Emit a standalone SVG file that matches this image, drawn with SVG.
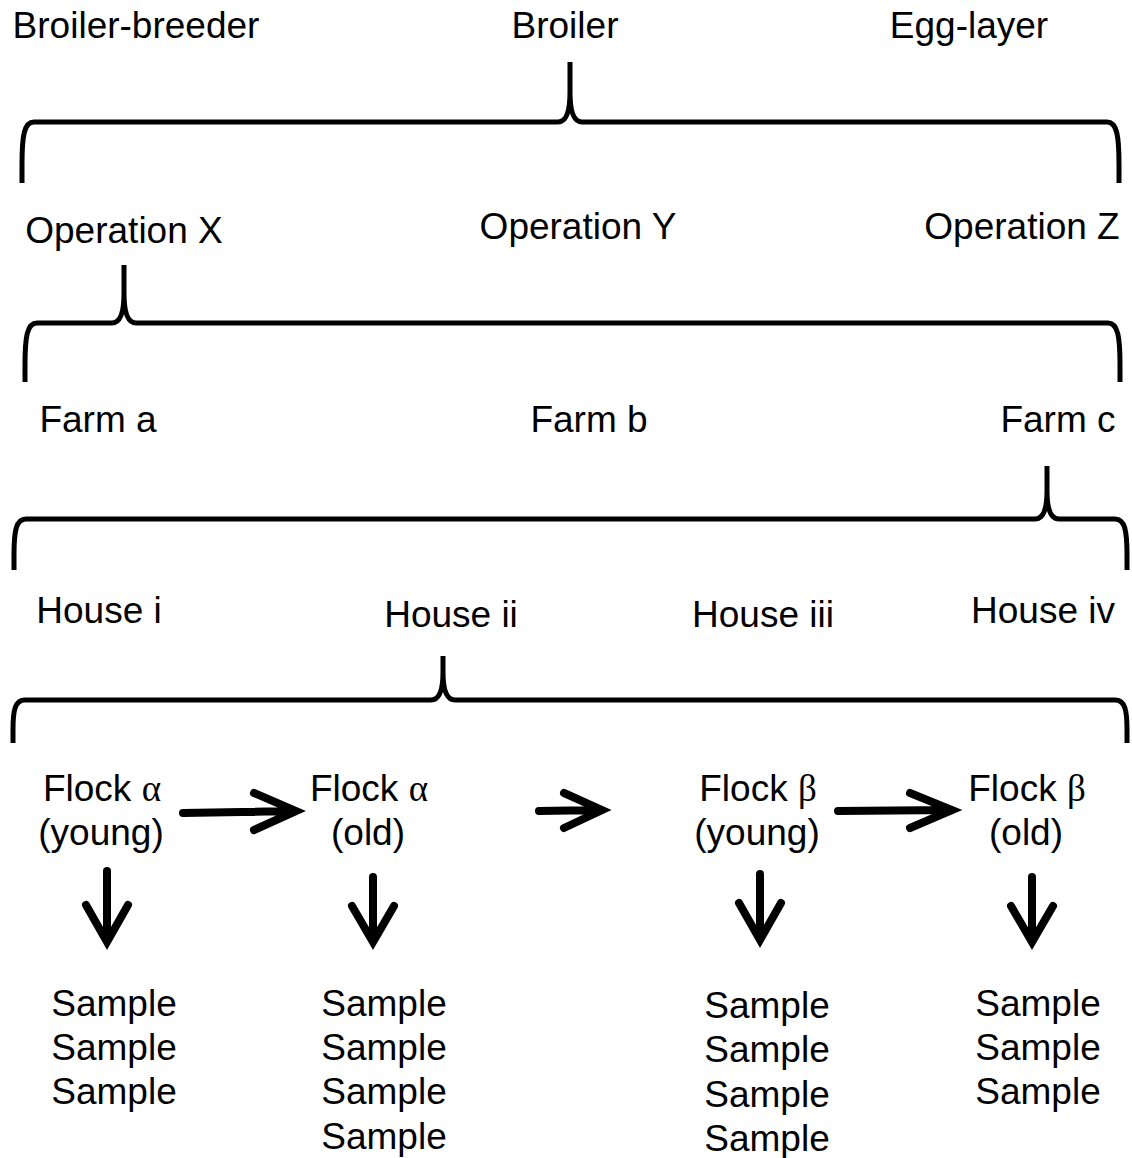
<svg xmlns="http://www.w3.org/2000/svg" width="1132" height="1158" viewBox="0 0 1132 1158">
<defs>
<style>
text{font-family:"Liberation Sans",Arial,sans-serif;font-size:37px;fill:#000;text-anchor:middle}
.g{font-family:"Liberation Serif","Times New Roman",serif}
.brace{fill:none;stroke:#000;stroke-width:5;stroke-linecap:butt;stroke-linejoin:round}
.arr{fill:none;stroke:#000;stroke-width:8;stroke-linecap:round;stroke-linejoin:miter}
</style>
</defs>
<rect width="1132" height="1158" fill="#fff"/>
<g id="level-type">
<text x="136" y="38">Broiler-breeder</text>
<text x="565" y="38">Broiler</text>
<text x="969" y="38">Egg-layer</text>
</g>
<g id="level-operation">
<text x="124" y="243">Operation X</text>
<text x="578" y="239">Operation Y</text>
<text x="1022" y="239">Operation Z</text>
</g>
<g id="level-farm">
<text x="98" y="432">Farm a</text>
<text x="589" y="432">Farm b</text>
<text x="1058" y="432">Farm c</text>
</g>
<g id="level-house">
<text x="99" y="623">House i</text>
<text x="451" y="627">House ii</text>
<text x="763" y="627">House iii</text>
<text x="1043" y="623">House iv</text>
</g>
<g id="flock-a-young"><text x="102" y="801">Flock <tspan class="g">α</tspan></text><text x="101" y="845">(young)</text></g>
<g id="flock-a-old"><text x="369" y="801">Flock <tspan class="g">α</tspan></text><text x="368" y="845">(old)</text></g>
<g id="flock-b-young"><text x="758" y="801">Flock <tspan class="g">β</tspan></text><text x="757" y="845">(young)</text></g>
<g id="flock-b-old"><text x="1027" y="801">Flock <tspan class="g">β</tspan></text><text x="1026" y="845">(old)</text></g>
<g id="samples-1"><text x="114" y="1016">Sample</text><text x="114" y="1060">Sample</text><text x="114" y="1104">Sample</text></g>
<g id="samples-2"><text x="384" y="1016">Sample</text><text x="384" y="1060">Sample</text><text x="384" y="1104">Sample</text><text x="384" y="1149">Sample</text></g>
<g id="samples-3"><text x="767" y="1018">Sample</text><text x="767" y="1062">Sample</text><text x="767" y="1107">Sample</text><text x="767" y="1151">Sample</text></g>
<g id="samples-4"><text x="1038" y="1016">Sample</text><text x="1038" y="1060">Sample</text><text x="1038" y="1104">Sample</text></g>
<g id="connectors">
<path class="brace" d="M22,183 L22,165 C22,136 24,122 34,122 L558,122 C566,122 570,112 570,92 L570,62 M570,92 C570,112 574,122 582,122 L1107,122 C1117,122 1119,136 1119,165 L1119,183"/>
<path class="brace" d="M25,382 L25,365 C25,337 27,323 37,323 L112,323 C120,323 124,313 124,293 L124,265 M124,293 C124,313 128,323 136,323 L1108,323 C1118,323 1120,337 1120,365 L1120,382"/>
<path class="brace" d="M14,570 L14,555 C14,531 16,519 26,519 L1035,519 C1043,519 1047,509 1047,491 L1047,466 M1047,491 C1047,509 1051,519 1059,519 L1115,519 C1125,519 1127,531 1127,555 L1127,570"/>
<path class="brace" d="M13,743 L13,730 C13,710 15,700 25,700 L431,700 C439,700 443,690 443,672 L443,656 M443,672 C443,690 447,700 455,700 L1115,700 C1125,700 1127,710 1127,730 L1127,743"/>
<path class="arr" d="M183,813 L294,811 M254,793 L296,811 L254,830"/>
<path class="arr" d="M539,811 L600,810 M564,793 L602,810 L564,828"/>
<path class="arr" d="M838,811 L950,810 M910,793 L952,810 L910,828"/>
<path class="arr" d="M107,871 L107,940 M86,905 L107,942 L128,905"/>
<path class="arr" d="M373,877 L373,940 M352,906 L373,942 L394,906"/>
<path class="arr" d="M760,874 L760,938 M739,903 L760,940 L781,903"/>
<path class="arr" d="M1032,877 L1032,940 M1011,906 L1032,942 L1053,906"/>
</g>
</svg>
